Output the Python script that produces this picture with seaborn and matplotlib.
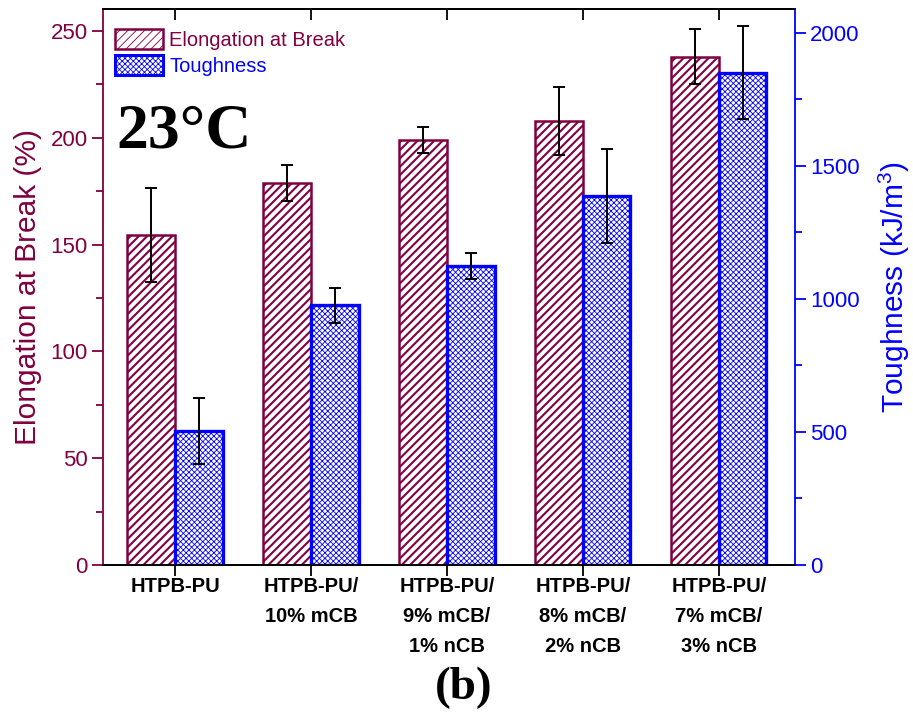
import numpy as np
import pandas as pd
import matplotlib
matplotlib.use("Agg")
import matplotlib.pyplot as plt
import seaborn as sns
from matplotlib.patches import Patch
from matplotlib.ticker import MultipleLocator

# ---- data ----
categories = ["HTPB-PU", "HTPB-PU/\n10% mCB", "HTPB-PU/\n9% mCB/\n1% nCB",
              "HTPB-PU/\n8% mCB/\n2% nCB", "HTPB-PU/\n7% mCB/\n3% nCB"]
elongation = [154.5, 179, 199, 208, 238]
elongation_err = [22, 8.5, 6, 16, 13]
toughness = [504, 976, 1124, 1387, 1851]
toughness_err = [123, 66, 49, 175, 175]
series_names = ["Elongation at Break", "Toughness"]

MAROON = "#800040"
BLUE = "#0000FF"

sns.set_theme(style="ticks")
plt.rcParams["font.family"] = ["Liberation Sans", "DejaVu Sans"]
plt.rcParams["mathtext.default"] = "regular"
plt.rcParams["text.color"] = "black"

df_e = pd.DataFrame({"Sample": categories, "Value": elongation, "Series": series_names[0]})
df_t = pd.DataFrame({"Sample": categories, "Value": toughness, "Series": series_names[1]})
pal = {series_names[0]: MAROON, series_names[1]: BLUE}

fig = plt.figure(figsize=(9.13, 7.17), dpi=100)
ax = fig.add_axes([103 / 913, 1 - 565 / 717, (795 - 103) / 913, (565 - 9) / 717])

plt.rcParams["hatch.linewidth"] = 1.5
sns.barplot(data=df_e, x="Sample", y="Value", hue="Series", hue_order=series_names,
            order=categories, palette=pal, width=0.7, dodge=True, errorbar=None,
            legend=False, ax=ax, linewidth=1.8, edgecolor=MAROON, zorder=2)
for p in ax.patches:
    p.set_facecolor("white")
    p.set_edgecolor(MAROON)
    p.set_hatch("////")
    if hasattr(p, "set_hatch_linewidth"):
        p.set_hatch_linewidth(1.5)

ax2 = ax.twinx()
plt.rcParams["hatch.linewidth"] = 0.6
sns.barplot(data=df_t, x="Sample", y="Value", hue="Series", hue_order=series_names,
            order=categories, palette=pal, width=0.7, dodge=True, errorbar=None,
            legend=False, ax=ax2, linewidth=2.4, edgecolor=BLUE, zorder=2)
for p in ax2.patches:
    p.set_facecolor("white")
    p.set_edgecolor(BLUE)
    p.set_hatch("xxxxxx")
    if hasattr(p, "set_hatch_linewidth"):
        p.set_hatch_linewidth(0.6)


def bar_centres(axis):
    cont = [c for c in axis.containers if len(c) == len(categories)][0]
    return [p.get_x() + p.get_width() / 2 for p in cont]


xe = bar_centres(ax)
xt = bar_centres(ax2)
ax.errorbar(xe, elongation, yerr=elongation_err, fmt="none", ecolor="black",
            elinewidth=1.4, capsize=4, capthick=1.4, zorder=5)
ax2.errorbar(xt, toughness, yerr=toughness_err, fmt="none", ecolor="black",
             elinewidth=1.4, capsize=4, capthick=1.4, zorder=5)

ax.set_xlim(-0.53, 4.56)
ax.set_ylim(0, 260.3)
ax2.set_ylim(0, 2090)

# axes styling
ax.yaxis.set_major_locator(MultipleLocator(50))
ax.yaxis.set_minor_locator(MultipleLocator(25))
ax2.yaxis.set_major_locator(MultipleLocator(500))
ax2.yaxis.set_minor_locator(MultipleLocator(250))

ax.tick_params(axis="y", which="major", direction="out", length=8, width=1.3,
               colors=MAROON, labelsize=16, pad=3)
ax.tick_params(axis="y", which="minor", direction="out", length=5, width=1.3, colors=MAROON)
ax2.tick_params(axis="y", which="major", direction="out", length=8, width=1.3,
                colors=BLUE, labelsize=16, pad=3)
ax2.tick_params(axis="y", which="minor", direction="out", length=5, width=1.3, colors=BLUE)

ax.set_xticks(range(len(categories)))
ax.set_xticklabels(categories, fontweight="bold", fontsize=14.5, linespacing=1.72)
ax.tick_params(axis="x", direction="out", length=8, width=1.3, colors="black", pad=1)
ax.set_xlabel("")

sec = ax.secondary_xaxis("top")
sec.set_xticks(range(len(categories)))
sec.set_xticklabels([])
sec.tick_params(direction="in", length=8, width=1.3, colors="black")
sec.spines["top"].set_linewidth(1.3)

for a in (ax, ax2):
    for s in a.spines.values():
        s.set_linewidth(1.3)
ax.spines["left"].set_color(MAROON)
ax.spines["bottom"].set_color("black")
ax.spines["top"].set_color("black")
ax2.spines["right"].set_color(BLUE)
ax2.spines["left"].set_visible(False)
ax2.spines["right"].set_visible(True)
ax.spines["right"].set_visible(False)
ax2.spines["top"].set_color("black")
ax2.spines["bottom"].set_color("black")

ax.set_ylabel("Elongation at Break (%)", color=MAROON, fontsize=21.5, labelpad=6)
ax2.set_ylabel("Toughness (kJ/m$^3$)", color=BLUE, fontsize=21.5, labelpad=12)

# legend
handles = [Patch(facecolor="white", edgecolor=MAROON, hatch="////", linewidth=1.8),
           Patch(facecolor="white", edgecolor=BLUE, hatch="xxxxxx", linewidth=2.2)]
leg = ax2.legend(handles, series_names, loc="upper left",
                 bbox_to_anchor=((115 - 103) / 692, (565 - 29) / 556),
                 frameon=False, fontsize=14.5, handlelength=2.4, handleheight=1.15,
                 handletextpad=0.3, labelspacing=0.25, borderpad=0, borderaxespad=0)
for t, c in zip(leg.get_texts(), [MAROON, BLUE]):
    t.set_color(c)

ax.text((116 - 103) / 692, (565 - 147) / 556, "23°C", transform=ax.transAxes,
        fontsize=46, fontweight="bold", family=["Liberation Serif", "DejaVu Serif"],
        va="baseline", ha="left", color="black")

fig.text(464 / 913, 1 - 688 / 717, "(b)", ha="center", va="center", fontsize=34,
         fontweight="bold", color="black", family=["Liberation Serif", "DejaVu Serif"])

fig.savefig("out.png", dpi=100)
